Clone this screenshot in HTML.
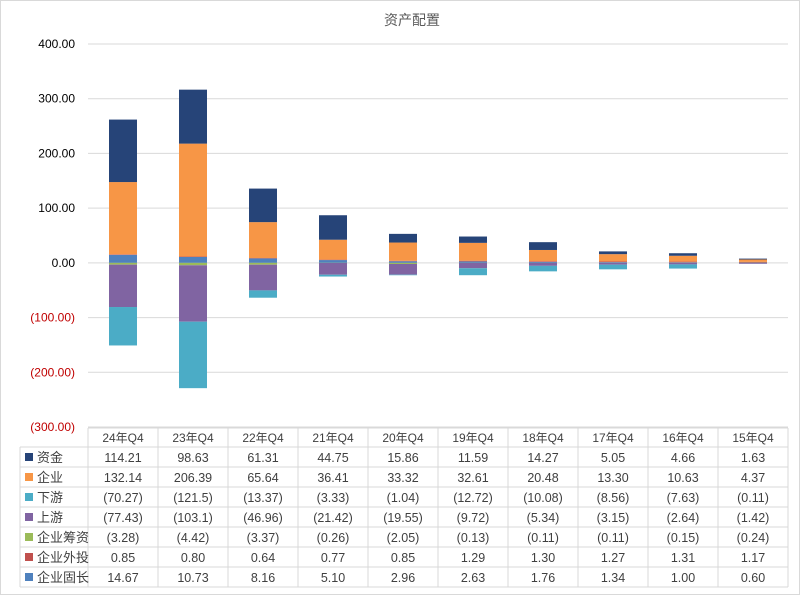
<!DOCTYPE html>
<html><head><meta charset="utf-8"><style>
body{margin:0;background:#fff;font-family:"Liberation Sans","Noto Sans CJK SC",sans-serif}
svg{display:block}
</style></head><body>
<svg id="c" width="800" height="595" xmlns="http://www.w3.org/2000/svg">
<rect x="0.5" y="0.5" width="799" height="594" fill="#fff" stroke="#d9d9d9"/>
<text x="412" y="25" text-anchor="middle" font-size="14" fill="#595959" font-family="Liberation Sans, Noto Sans CJK SC, sans-serif">资产配置</text>
</svg>
<script>
const categories=["24年Q4","23年Q4","22年Q4","21年Q4","20年Q4","19年Q4","18年Q4","17年Q4","16年Q4","15年Q4"];
const seriesNames=["资金","企业","下游","上游","企业筹资","企业外投","企业固长"];
const zijin=[114.21,98.63,61.31,44.75,15.86,11.59,14.27,5.05,4.66,1.63];
const qiye=[132.14,206.39,65.64,36.41,33.32,32.61,20.48,13.30,10.63,4.37];
const xiayou=[-70.27,-121.5,-13.37,-3.33,-1.04,-12.72,-10.08,-8.56,-7.63,-0.11];
const shangyou=[-77.43,-103.1,-46.96,-21.42,-19.55,-9.72,-5.34,-3.15,-2.64,-1.42];
const chouzi=[-3.28,-4.42,-3.37,-0.26,-2.05,-0.13,-0.11,-0.11,-0.15,-0.24];
const waitou=[0.85,0.80,0.64,0.77,0.85,1.29,1.30,1.27,1.31,1.17];
const guchang=[14.67,10.73,8.16,5.10,2.96,2.63,1.76,1.34,1.00,0.60];
const yTicks=[400,300,200,100,0,-100,-200,-300];
const tableText=[
["114.21","98.63","61.31","44.75","15.86","11.59","14.27","5.05","4.66","1.63"],
["132.14","206.39","65.64","36.41","33.32","32.61","20.48","13.30","10.63","4.37"],
["(70.27)","(121.5)","(13.37)","(3.33)","(1.04)","(12.72)","(10.08)","(8.56)","(7.63)","(0.11)"],
["(77.43)","(103.1)","(46.96)","(21.42)","(19.55)","(9.72)","(5.34)","(3.15)","(2.64)","(1.42)"],
["(3.28)","(4.42)","(3.37)","(0.26)","(2.05)","(0.13)","(0.11)","(0.11)","(0.15)","(0.24)"],
["0.85","0.80","0.64","0.77","0.85","1.29","1.30","1.27","1.31","1.17"],
["14.67","10.73","8.16","5.10","2.96","2.63","1.76","1.34","1.00","0.60"]];
const colors=["#264478","#f79646","#4bacc6","#8064a2","#9bbb59","#c0504d","#4f81bd"];
const NS="http://www.w3.org/2000/svg";
const svgEl=document.getElementById('c');
const x0=88,colW=70,yMax=400,yMin=-300,yTop=44,yBot=427;
const yS=v=>yTop+(yMax-v)/(yMax-yMin)*(yBot-yTop);
const xc=i=>x0+colW*i+colW/2;
function mk(t,a){const e=document.createElementNS(NS,t);for(const k in a)e.setAttribute(k,a[k]);svgEl.appendChild(e);return e;}
yTicks.forEach(v=>{
  const g=mk('line',{x1:x0,x2:x0+colW*10,y1:yS(v),y2:yS(v),stroke:'#d9d9d9'});
  
  
  const t=mk('text',{x:75,y:yS(v)+4,'text-anchor':'end','font-size':12,fill:v<0?'#c00000':'#000'});
  t.textContent=v<0?'('+Math.abs(v).toFixed(2)+')':v.toFixed(2);
  
  
});
const posOrder=[[guchang,6],[waitou,5],[qiye,1],[zijin,0]];
const negOrder=[[chouzi,4],[shangyou,3],[xiayou,2]];
const bw=28;
categories.forEach((c,i)=>{
  let p=0,n=0;
  posOrder.concat(negOrder).forEach(([arr,si])=>{
    const v=arr[i];let a,b;
    if(v>=0){a=p;b=p+v;p=b;}else{a=n;b=n+v;n=b;}
    const r=mk('rect',{x:xc(i)-bw/2,y:Math.min(yS(a),yS(b)),width:bw,height:Math.abs(yS(a)-yS(b)),fill:colors[si]});
    
    
  });
});
const tTop=428,hdrH=19,rowH=20,tLeft=20,tRight=x0+colW*10;
const tb=tTop+hdrH+rowH*7;
mk('line',{x1:x0,x2:tRight,y1:tTop,y2:tTop,stroke:'#d9d9d9'});
for(let r=0;r<=7;r++){const ly=tTop+hdrH+rowH*r;mk('line',{x1:tLeft,x2:tRight,y1:ly,y2:ly,stroke:'#d9d9d9'});}
mk('line',{x1:tLeft,x2:tLeft,y1:tTop+hdrH,y2:tb,stroke:'#d9d9d9'});
for(let i=0;i<=10;i++)mk('line',{x1:x0+colW*i,x2:x0+colW*i,y1:tTop,y2:tb,stroke:'#d9d9d9'});
categories.forEach((c,i)=>{
  const t=mk('text',{x:xc(i),y:tTop+14,'text-anchor':'middle','font-size':12,fill:'#404040'});
  t.textContent=c;
  
  
});
seriesNames.forEach((s,r)=>{
  const cy=tTop+hdrH+rowH*r+rowH/2;
  const k=mk('rect',{x:25,y:cy-4,width:8,height:8,fill:colors[r]});
  
  
  const t=mk('text',{x:37,y:cy+5,'font-size':13,fill:'#404040'});
  t.textContent=s;
  
  
  tableText[r].forEach((v,i)=>{
    const tt=mk('text',{x:xc(i),y:cy+5,'text-anchor':'middle','font-size':12.5,fill:'#404040'});
    tt.textContent=v;
    
    
  });
});
</script>
</body></html>
